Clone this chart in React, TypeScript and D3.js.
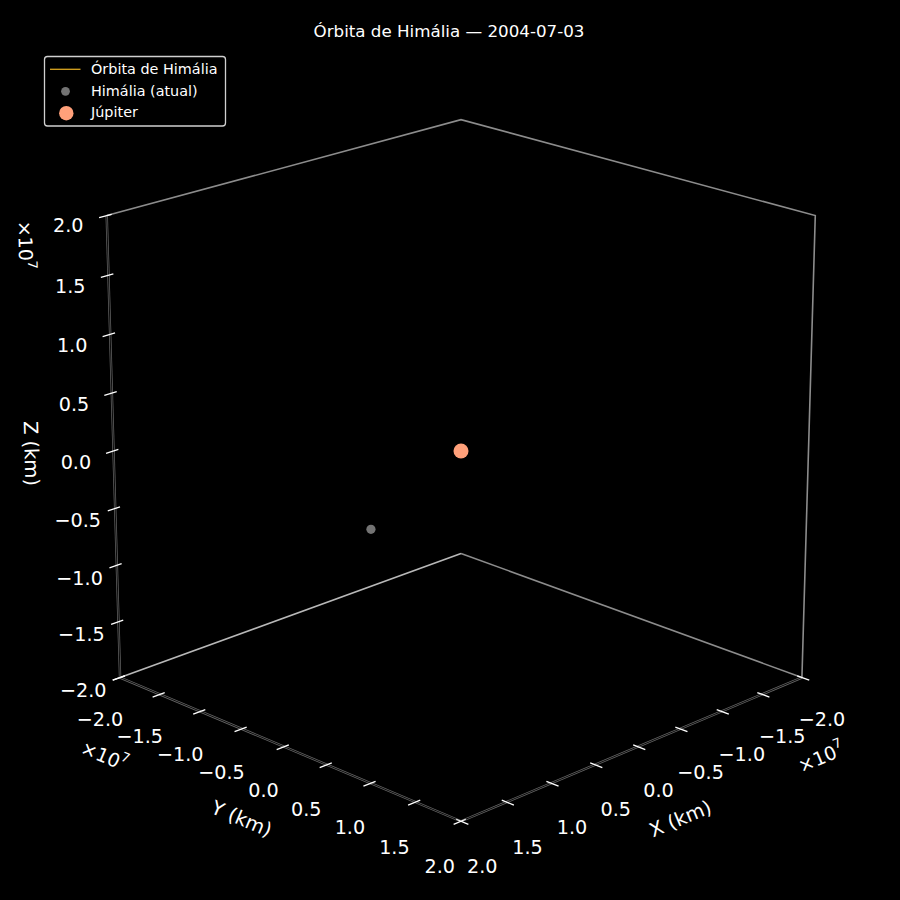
import React from 'react';
import * as d3 from 'd3';

// ---- Data ----
const TITLE = 'Órbita de Himália — 2004-07-03';
const AXIS_DOMAIN: [number, number] = [-2e7, 2e7];
const AXIS_LABELS = { x: 'X (km)', y: 'Y (km)', z: 'Z (km)' };
const LEGEND_LABELS = ['Órbita de Himália', 'Himália (atual)', 'Júpiter'];
// orbit trace (no visible points in the reference)
const orbitX: number[] = [];
const orbitY: number[] = [];
const orbitZ: number[] = [];
// current positions (km)
const himaliaPos: [number, number, number] = [1.04e7, 0.02e7, -0.395e7];
const jupiterPos: [number, number, number] = [0, 0, 0];

// ---- Styles ----
const FONT = 'DejaVu Sans, Verdana, sans-serif';
const ORBIT_COLOR = '#DAA520';
const HIMALIA_COLOR = '#737373';
const JUPITER_COLOR = '#FFA07A';

// ---- Projection (elev 20°, azim 45°, perspective) ----
const EL = (20 * Math.PI) / 180;
const AZ = (45 * Math.PI) / 180;
const DIST = 17.8;
const K = 245.7;
const CX = 461;
const CY = 451;

function proj(X: number, Y: number, Z: number): [number, number] {
  const h = Math.cos(AZ) * X + Math.sin(AZ) * Y;
  const right = -Math.sin(AZ) * X + Math.cos(AZ) * Y;
  const up = -Math.sin(EL) * h + Math.cos(EL) * Z;
  const d = Math.cos(EL) * h + Math.sin(EL) * Z;
  const s = 1 / (1 - d / DIST);
  return [CX + K * right * s, CY - K * up * s];
}

const sx = d3.scaleLinear().domain(AXIS_DOMAIN).range([-1, 1]);
const sy = d3.scaleLinear().domain(AXIS_DOMAIN).range([-1, 1]);
const sz = d3.scaleLinear().domain(AXIS_DOMAIN).range([-1, 1]);

function p3(x: number, y: number, z: number) {
  return proj(sx(x), sy(y), sz(z));
}

const fmt = (v: number) => {
  const t = (v / 1e7).toFixed(1);
  return t.startsWith('-') ? '\u2212' + t.slice(1) : t;
};

function angleDeg(a: [number, number], b: [number, number]) {
  return (Math.atan2(b[1] - a[1], b[0] - a[0]) * 180) / Math.PI;
}

export default function App() {
  const xt = sx.ticks(8);
  const yt = sy.ticks(8);
  const zt = sz.ticks(8);

  // corners (normalized)
  const TL = proj(1, -1, 1);
  const TB = proj(-1, -1, 1);
  const TR = proj(-1, 1, 1);
  const BL = proj(1, -1, -1);
  const BB = proj(-1, -1, -1);
  const BR = proj(-1, 1, -1);
  const BF = proj(1, 1, -1);

  const ln = (a: [number, number], b: [number, number]) => `M${a[0]},${a[1]}L${b[0]},${b[1]}`;

  const tickOut = 0.04;
  const tickIn = 0.026;

  const xAngle = angleDeg(BF, BR);
  const yAngle = angleDeg(BL, BF);
  const zAngle = angleDeg(TL, BL);

  const orbitPts = orbitX.map((x, i) => p3(x, orbitY[i], orbitZ[i]));
  const orbitPath = d3.line()(orbitPts as [number, number][]);

  const hm = p3(...himaliaPos);
  const jp = p3(...jupiterPos);

  const axisLine = (d: string, key: string) => (
    <g key={key}>
      <path d={d} stroke="#666" strokeWidth={2.4} fill="none" />
      <path d={d} stroke="#000" strokeWidth={0.9} fill="none" />
    </g>
  );

  const xLab = proj(0, 1.235, -1.24);
  const yLab = proj(1.235, 0, -1.24);
  const zLab = proj(1.43, -1, 0.1);
  const xOff = proj(-0.9, 1.2, -1.266);
  const yOff = proj(1.18, -0.9, -1.266);
  const zOff = proj(1.42, -1, 0.97);

  const offText = (pos: [number, number], rot: number, key: string) => (
    <text
      key={key}
      transform={`translate(${pos[0]},${pos[1]}) rotate(${rot})`}
      textAnchor="middle"
      dominantBaseline="central"
      fill="#fff"
      fontSize={19}
      fontFamily={FONT}
    >
      ×10<tspan fontSize={13} dy={-7}>7</tspan>
    </text>
  );

  return (
    <svg width={900} height={900} style={{ position: 'absolute', left: 0, top: 0 }} fontFamily={FONT}>
      <rect x={0} y={0} width={900} height={900} fill="#000" />
      <text x={449} y={31} textAnchor="middle" dominantBaseline="central" fill="#fff" fontSize={16.7}>
        {TITLE}
      </text>

      {/* pane edges */}
      <path d={`M${TL[0]},${TL[1]}L${TB[0]},${TB[1]}L${TR[0]},${TR[1]}L${BR[0]},${BR[1]}`} stroke="#8c8c8c" strokeWidth={1.6} fill="none" />
      <path d={ln(BB, BR)} stroke="#8c8c8c" strokeWidth={1.6} fill="none" />
      <path d={ln(BL, BB)} stroke="#b8b8b8" strokeWidth={1.6} fill="none" />

      {/* axis lines */}
      {axisLine(ln(BR, BF), 'ax')}
      {axisLine(ln(BL, BF), 'ay')}
      {axisLine(ln(BL, TL), 'az')}

      {/* X ticks (along y direction at y=+1, z=-1) */}
      {xt.map((v) => {
        const xx = sx(v);
        const a = proj(xx, 1 + tickOut, -1);
        const b = proj(xx, 1 - tickIn, -1);
        const l = proj(xx, 1.115, -1.155);
        return (
          <g key={'xt' + v}>
            <path d={ln(a, b)} stroke="#fff" strokeWidth={1.3} />
            <text x={l[0]} y={l[1]} textAnchor="middle" dominantBaseline="central" fill="#fff" fontSize={19.2}>
              {fmt(v)}
            </text>
          </g>
        );
      })}
      {/* Y ticks (along x direction at x=+1, z=-1) */}
      {yt.map((v) => {
        const yy = sy(v);
        const a = proj(1 + tickOut, yy, -1);
        const b = proj(1 - tickIn, yy, -1);
        const l = proj(1.115, yy, -1.155);
        return (
          <g key={'yt' + v}>
            <path d={ln(a, b)} stroke="#fff" strokeWidth={1.3} />
            <text x={l[0]} y={l[1]} textAnchor="middle" dominantBaseline="central" fill="#fff" fontSize={19.2}>
              {fmt(v)}
            </text>
          </g>
        );
      })}
      {/* Z ticks (along x direction at x=+1, y=-1) */}
      {zt.map((v) => {
        const zz = sz(v);
        const a = proj(1 + tickOut, -1, zz);
        const b = proj(1 - tickIn, -1, zz);
        const l = proj(1.2, -1, zz);
        return (
          <g key={'zt' + v}>
            <path d={ln(a, b)} stroke="#fff" strokeWidth={1.3} />
            <text x={l[0]} y={l[1]} textAnchor="middle" dominantBaseline="central" fill="#fff" fontSize={19.2}>
              {fmt(v)}
            </text>
          </g>
        );
      })}

      {/* axis labels */}
      <text transform={`translate(${xLab[0]},${xLab[1]}) rotate(${xAngle})`} textAnchor="middle" dominantBaseline="central" fill="#fff" fontSize={19.5}>
        {AXIS_LABELS.x}
      </text>
      <text transform={`translate(${yLab[0]},${yLab[1]}) rotate(${yAngle})`} textAnchor="middle" dominantBaseline="central" fill="#fff" fontSize={19.5}>
        {AXIS_LABELS.y}
      </text>
      <text transform={`translate(${zLab[0]},${zLab[1]}) rotate(${zAngle})`} textAnchor="middle" dominantBaseline="central" fill="#fff" fontSize={19.5}>
        {AXIS_LABELS.z}
      </text>
      {offText(xOff, xAngle, 'xo')}
      {offText(yOff, yAngle, 'yo')}
      {offText(zOff, zAngle, 'zo')}

      {/* data */}
      {orbitPath && orbitPts.length > 0 && <path d={orbitPath} stroke={ORBIT_COLOR} strokeWidth={1.2} fill="none" />}
      <circle cx={hm[0]} cy={hm[1]} r={4.6} fill={HIMALIA_COLOR} />
      <circle cx={jp[0]} cy={jp[1]} r={7.5} fill={JUPITER_COLOR} />

      {/* legend */}
      <rect x={44.5} y={56.5} width={181} height={69.5} rx={3} fill="#000" stroke="#d0d0d0" strokeWidth={1.3} />
      <line x1={50} y1={69.3} x2={80.5} y2={69.3} stroke={ORBIT_COLOR} strokeWidth={1.3} />
      <circle cx={65.5} cy={91.3} r={4.4} fill={HIMALIA_COLOR} />
      <circle cx={66.3} cy={113.2} r={7.2} fill={JUPITER_COLOR} />
      {LEGEND_LABELS.map((t, i) => (
        <text key={t} x={91} y={69 + i * 21.6} dominantBaseline="central" fill="#fff" fontSize={14.4}>
          {t}
        </text>
      ))}
    </svg>
  );
}
